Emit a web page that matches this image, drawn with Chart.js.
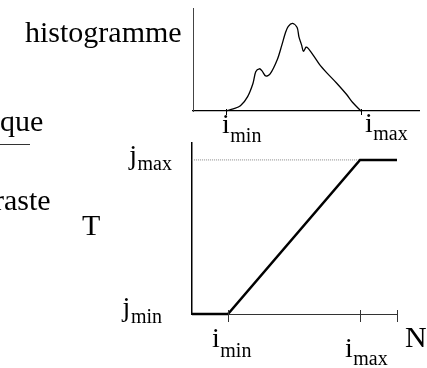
<!DOCTYPE html>
<html><head><meta charset="utf-8">
<script src="https://cdn.jsdelivr.net/npm/chart.js@4"></script>
<style>
html,body{margin:0;padding:0;background:#fff;overflow:hidden}
#wrap{position:relative;width:427px;height:368px;overflow:hidden;font-family:"Liberation Serif","Times New Roman",serif;color:#000}
canvas{position:absolute;left:0;top:0}
.t{position:absolute;font-size:30px;line-height:30px;white-space:nowrap}
</style></head><body>
<div id="wrap">
<canvas id="c1" width="427" height="368"></canvas>
<canvas id="c2" width="427" height="368"></canvas>
<div class="t" style="left:25px;top:17px">histogramme</div>
<div class="t" style="left:0px;top:106px">que</div>
<div style="position:absolute;left:0;top:144px;width:30px;height:1px;background:#333"></div>
<div class="t" style="left:-6px;top:185px">raste</div>
<div class="t" style="left:82px;top:210px">T</div>
</div>
<script>
// ---- data ----
const histX = [50, 58, 66, 74, 80, 83, 87, 90, 94, 99, 107, 112, 116, 119, 124, 129, 131, 134, 136, 139, 141, 147, 154, 162, 173, 184, 191, 200];
const histY = [0, 2, 5, 14, 27, 38, 41, 39, 34, 36, 50, 64, 76, 82, 85, 81, 72, 64, 58, 62, 61, 54, 45, 37, 27, 16, 8, 0];
const iLevels = [50, 200];          // i_min, i_max
const jLevels = [0, 255];           // j_min, j_max
const tX = [9, 50, 200, 242];
const tY = [0, 0, 255, 255];
const dotX = [9, 200];
const dotY = [255, 255];
const iTickLabels = [['i', 'min'], ['i', 'max']];
const jTickLabels = [['j', 'min'], ['j', 'max']];
const bottomTickValues = [50, 200, 242];
const bottomAxisTitle = 'N';

const FONT = '"Liberation Serif", "Times New Roman", serif';

function drawSubLabel(ctx, base, sub, x, y, subDy, align) {
  ctx.font = '28px ' + FONT;
  const bw = ctx.measureText(base).width;
  ctx.font = '20px ' + FONT;
  const sw = ctx.measureText(sub).width;
  const left = align === 'right' ? x - bw - sw - 0.5 : x;
  ctx.font = '28px ' + FONT;
  ctx.fillText(base, left, y);
  ctx.font = '20px ' + FONT;
  ctx.fillText(sub, left + bw + 0.5, y + subDy);
}

const labelPlugin = {
  id: 'labels',
  afterDraw(chart, args, o) {
    const ctx = chart.ctx, xs = chart.scales.x, ys = chart.scales.y;
    const axisY = ys.getPixelForValue(ys.min);
    ctx.save();
    ctx.fillStyle = '#000';
    ctx.textBaseline = 'alphabetic';
    ctx.textAlign = 'left';
    ctx.strokeStyle = o.tickColor;
    ctx.lineWidth = 1;
    (o.tickValues || []).forEach(v => {
      const px = Math.round(xs.getPixelForValue(v)) + 0.5;
      ctx.beginPath();
      ctx.moveTo(px, axisY - o.tickUp);
      ctx.lineTo(px, axisY + o.tickDown);
      ctx.stroke();
    });
    (o.xLabels || []).forEach((lab, k) => {
      const px = xs.getPixelForValue(o.xValues[k]);
      drawSubLabel(ctx, lab[0], lab[1], px + o.xDx[k], axisY + o.xDy[k], o.xSubDy[k], 'left');
    });
    (o.yLabels || []).forEach((lab, k) => {
      const py = ys.getPixelForValue(o.yValues[k]);
      drawSubLabel(ctx, lab[0], lab[1], xs.left - o.yGap[k], py + o.yDy[k], o.ySubDy[k], 'right');
    });
    if (o.title) {
      ctx.font = '30px ' + FONT;
      ctx.fillText(o.title, xs.right + o.titleDx, axisY + o.titleDy);
    }
    ctx.restore();
  }
};

function opts(pad, xmin, xmax, ymin, ymax, xb, yb, lab) {
  return {
    responsive: false, animation: false, devicePixelRatio: 1,
    layout: { padding: pad },
    plugins: { legend: { display: false }, tooltip: { enabled: false }, labels: lab },
    scales: {
      x: { type: 'linear', min: xmin, max: xmax,
           grid: { display: false, drawTicks: false, tickLength: 0 },
           ticks: { display: false },
           border: { display: true, color: xb[0], width: xb[1] } },
      y: { type: 'linear', min: ymin, max: ymax,
           grid: { display: false, drawTicks: false, tickLength: 0 },
           ticks: { display: false },
           border: { display: true, color: yb[0], width: yb[1] } }
    }
  };
}

// ---- top chart: histogram ----
new Chart(document.getElementById('c1'), {
  type: 'line',
  data: { datasets: [{
    data: histX.map((x, k) => ({ x, y: histY[k] })),
    borderColor: '#000', borderWidth: 1.3, pointRadius: 0, tension: 0.3, fill: false, clip: false
  }] },
  options: opts({ left: 193, top: 8, right: 8, bottom: 257 }, 13.3, 264.4, 0, 100,
    ['#000', 1.2], ['#444', 1],
    { tickColor: '#000', tickValues: iLevels, tickUp: 2, tickDown: 4,
      xLabels: iTickLabels, xValues: iLevels, xDx: [-4, 4], xDy: [22, 21], xSubDy: [9, 8] }),
  plugins: [labelPlugin]
});

// ---- bottom chart: transfer function T ----
new Chart(document.getElementById('c2'), {
  type: 'line',
  data: { datasets: [
    { data: tX.map((x, k) => ({ x, y: tY[k] })),
      borderColor: '#000', borderWidth: 2.5, pointRadius: 0, tension: 0, fill: false, clip: false },
    { data: dotX.map((x, k) => ({ x, y: dotY[k] })),
      borderColor: '#888', borderWidth: 1, borderDash: [1, 1], pointRadius: 0, tension: 0, fill: false, clip: false }
  ] },
  options: opts({ left: 192, top: 143, right: 30, bottom: 54 }, 9.1, 242, 0, 283,
    ['#333', 1], ['#000', 1.5],
    { tickColor: '#333', tickValues: bottomTickValues, tickUp: 4, tickDown: 8,
      xLabels: iTickLabels, xValues: iLevels, xDx: [-16, -15], xDy: [33, 43], xSubDy: [10, 8],
      yLabels: jTickLabels, yValues: jLevels, yGap: [30, 20], yDy: [2, 4], ySubDy: [7, 6],
      title: bottomAxisTitle, titleDx: 8, titleDy: 33 }),
  plugins: [labelPlugin]
});
</script>
</body></html>
